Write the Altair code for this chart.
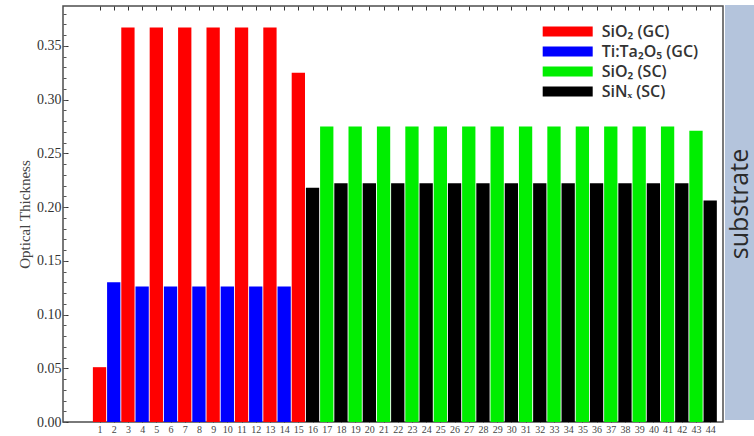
import altair as alt
import pandas as pd

# ---- data ----
layer_no = list(range(1, 45))
thickness = [0.051, 0.130, 0.367, 0.126, 0.367, 0.126, 0.367, 0.126, 0.367, 0.126,
             0.367, 0.126, 0.367, 0.126, 0.325, 0.218, 0.275, 0.222, 0.275, 0.222,
             0.275, 0.222, 0.275, 0.222, 0.275, 0.222, 0.275, 0.222, 0.275, 0.222,
             0.275, 0.222, 0.275, 0.222, 0.275, 0.222, 0.275, 0.222, 0.275, 0.222,
             0.275, 0.222, 0.271, 0.206]
mat_names = ["SiO\u2082 (GC)", "Ti:Ta\u2082O\u2085 (GC)", "SiO\u2082 (SC)", "SiN\u2093 (SC)"]
mat_colors = ["#ff0000", "#0000ff", "#00ee00", "#000000"]
material = ([mat_names[0], mat_names[1]] * 7 + [mat_names[0]] +
            [mat_names[3]] + [mat_names[2], mat_names[3]] * 14)
y_ticks = [0.00, 0.05, 0.10, 0.15, 0.20, 0.25, 0.30, 0.35]
y_minor = [round(i * 0.01, 2) for i in range(0, 39)]

df = pd.DataFrame({"layer": layer_no, "thickness": thickness, "material": material})

xscale = alt.Scale(domain=[-1.22, 44.55], nice=False, zero=False)
yscale = alt.Scale(domain=[0, 0.387], nice=False)

serif = "Liberation Serif"

bottom_axis = alt.Axis(values=layer_no, title=None, domain=False, grid=False,
                       offset=-3, tickSize=3, tickColor="#333", labelFont=serif,
                       labelFontSize=10, labelColor="#444", labelPadding=2,
                       labelFlush=False, labelOverlap=False)
left_axis = alt.Axis(values=y_ticks, format=".2f", title="Optical  Thickness",
                     domain=False, grid=False, offset=-5, tickSize=5, tickColor="#333",
                     labelFont=serif, labelFontSize=14, labelColor="#333",
                     labelPadding=2, titleFont=serif, titleFontSize=15,
                     titleFontWeight="normal", titleColor="#444", titlePadding=4)
top_axis = alt.Axis(orient="top", values=layer_no, labels=False, title=None,
                    domain=False, grid=False, offset=-4, tickSize=4, tickColor="#333")
minor_axis = alt.Axis(orient="left", values=y_minor, labels=False, title=None,
                      domain=False, grid=False, offset=-3, tickSize=3, tickColor="#555")

base = alt.Chart(df)

bars = base.mark_bar(size=13.3).encode(
    x=alt.X("layer:Q", scale=xscale, axis=bottom_axis),
    y=alt.Y("thickness:Q", scale=yscale, axis=left_axis),
    color=alt.Color("material:N",
                    scale=alt.Scale(domain=mat_names, range=mat_colors),
                    legend=alt.Legend(orient="none", legendX=496.7, legendY=17.5,
                                      title=None, padding=0,
                                      symbolType="M-5,-1H5V1H-5Z",
                                      symbolSize=100, symbolStrokeWidth=0,
                                      symbolOpacity=1, labelFont="Open Sans",
                                      labelFontSize=16, labelFontWeight=600,
                                      labelColor="#333", labelOffset=26,
                                      rowPadding=4, labelLimit=300)),
)

ghost = base.mark_point(opacity=0).encode(
    x=alt.X("layer:Q", scale=xscale, axis=top_axis),
    y=alt.Y("thickness:Q", scale=yscale, axis=minor_axis),
)

panel_df = pd.DataFrame({"label": ["substrate"]})
panel = alt.Chart(panel_df).mark_rect(color="#b4c4dc").encode(
    x=alt.value(662), x2=alt.value(691), y=alt.value(-1), y2=alt.value(414)
)
panel_text = alt.Chart(panel_df).mark_text(
    angle=270, font="Open Sans", fontSize=25, color="#2a2a2a",
    align="center", baseline="middle"
).encode(text="label:N", x=alt.value(677), y=alt.value(198))

chart = alt.layer(bars, ghost, panel, panel_text).resolve_axis(
    x="independent", y="independent"
).properties(
    width=660, height=416,
    autosize=alt.AutoSizeParams(type="none"),
    padding={"left": 63, "top": 6, "right": 31, "bottom": 14},
    background="white",
).configure_view(stroke="#4d4d4d", strokeWidth=1.5)

chart.save("out.html", embed_options={"renderer": "svg", "actions": False})
